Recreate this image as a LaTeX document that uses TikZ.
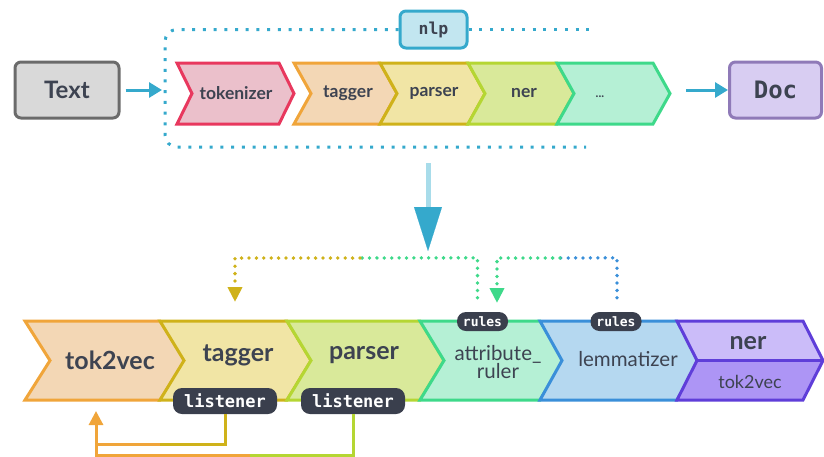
\documentclass[tikz,border=0pt]{standalone}
\usepackage{fontspec}
\setmainfont{Lato}
\setmonofont{DejaVu Sans Mono}
\usetikzlibrary{arrows.meta,calc}
\definecolor{ink}{HTML}{3D4351}
\definecolor{pill}{HTML}{3A3F4D}
\definecolor{cyanl}{HTML}{35A9CC}
\definecolor{cyanf}{HTML}{C2E6F0}
\definecolor{cyans}{HTML}{A8DCEA}
\definecolor{greyl}{HTML}{6B6B6B}
\definecolor{greyf}{HTML}{D9D9D9}
\definecolor{docl}{HTML}{8F7AB8}
\definecolor{docf}{HTML}{D8CDF2}
\definecolor{redl}{HTML}{E8385E}
\definecolor{redf}{HTML}{EBC0CB}
\definecolor{orl}{HTML}{F0A53A}
\definecolor{orf}{HTML}{F3D7B5}
\definecolor{mul}{HTML}{CFB21A}
\definecolor{muf}{HTML}{F1E5A5}
\definecolor{lil}{HTML}{B5D633}
\definecolor{lif}{HTML}{D9E99A}
\definecolor{grl}{HTML}{3ED98A}
\definecolor{grf}{HTML}{B5F0D5}
\definecolor{bll}{HTML}{3A8FD9}
\definecolor{blf}{HTML}{B5D8F0}
\definecolor{pul}{HTML}{5F3ED9}
\definecolor{puf}{HTML}{CBBCF9}
\definecolor{pud}{HTML}{AD95F5}
\newcommand{\fs}[1]{\fontsize{#1}{#1}\selectfont}
% chevron: left x, right x, top y, bottom y, notch depth, style
\newcommand{\chev}[6]{%
  \path[#6] (#1,#3) -- (#2,#3) -- ({#2+#5},{(#3+#4)/2}) -- (#2,#4) -- (#1,#4)
    -- ({#1+#5},{(#3+#4)/2}) -- cycle;}
\tikzset{
  chevRed/.style={draw=redl, fill=redf, line width=3pt},
  chevOr/.style={draw=orl, fill=orf, line width=3pt},
  chevMu/.style={draw=mul, fill=muf, line width=3pt},
  chevLi/.style={draw=lil, fill=lif, line width=3pt},
  chevGr/.style={draw=grl, fill=grf, line width=3pt},
  chevBl/.style={draw=bll, fill=blf, line width=3pt},
  endbox/.style={rounded corners=6pt, line width=3pt, inner sep=0pt, text=ink},
  toplab/.style={font=\bfseries\fs{17.5}, text=ink},
  biglab/.style={font=\bfseries\fs{25}, text=ink},
  midlab/.style={font=\fs{20.5}, text=ink},
  pillbox/.style={fill=pill, rounded corners=9pt, text=white, inner sep=0pt},
  flow/.style={draw=cyanl, line width=3pt, -{Triangle[width=15pt,length=13pt]}},
  frame/.style={draw=cyanl, line width=3pt, dash pattern=on 3pt off 7.7pt},
  dots/.style={line width=3.8pt, line cap=round, dash pattern=on 0pt off 7.4pt},
  back/.style={line width=3pt},
}
\begin{document}
\begin{tikzpicture}[x=1pt,y=-1pt]
\useasboundingbox (0,0) rectangle (824,456);
% top row
\node[endbox, draw=greyl, fill=greyf, minimum width=104pt, minimum height=56pt,
  font=\bfseries\fs{24}] (text) at (67,90) {Text};
\node[endbox, draw=docl, fill=docf, minimum width=92pt, minimum height=56pt,
  font=\ttfamily\bfseries\fs{24}] (doc) at (775.5,90) {Doc};
\node[endbox, draw=cyanl, fill=cyanf, minimum width=67pt, minimum height=37pt,
  font=\ttfamily\bfseries\fs{16.5}] (nlp) at (433.5,29.5) {nlp};
% dotted nlp frame
\draw[frame, rounded corners=12pt] (nlp.west) -- (165,29.5) -- (165,147) -- (586,147);
\draw[frame] (nlp.east) -- (593,29.5);
\chev{177}{279}{63}{124}{15}{chevRed}
\foreach \xl/\xr/\s in {294/380/chevOr, 380/468/chevMu, 468/557/chevLi, 557/653/chevGr}
  \chev{\xl}{\xr}{63}{124}{17}{\s};
\node[toplab] (tokL) at (236,93) {tokenizer};
\node[toplab] (tagL) at (348,93) {tagger};
\node[toplab] (parL) at (434,93) {parser};
\node[toplab] (nerL) at (524,93) {ner};
\node[toplab, font=\bfseries\fs{12}] (moreL) at (600,97) {...};
\coordinate (nlpIn) at (162,90);
\coordinate (nlpOut) at (686,90);
\draw[flow] (text.east) ++(5,0) -- (nlpIn);
\draw[flow] (nlpOut) -- (doc.west);
% big arrow down
\coordinate (dA) at (428,163);
\coordinate (dB) at (428,207);
\coordinate (dC) at (428,251);
\draw[draw=cyans, line width=5pt] (dA) -- (dB);
\draw[draw=cyanl, line width=0.1pt, -{Triangle[width=28pt,length=44pt]}] (dB) -- (dC);
% bottom row
\chev{25}{160}{321}{400}{25}{chevOr}
\chev{160}{287}{321}{400}{24}{chevMu}
\chev{287}{420}{321}{400}{24}{chevLi}
\chev{420}{540}{321}{400}{24}{chevGr}
\chev{540}{677}{321}{400}{22}{chevBl}
% ner with its own tok2vec
\fill[puf] (677,321) -- (803,321) -- (823,360.5) -- (697,360.5) -- cycle;
\fill[pud] (697,360.5) -- (823,360.5) -- (803,400) -- (677,400) -- cycle;
\draw[pul, line width=3pt] (677,321) -- (803,321) -- (823,360.5) -- (803,400)
  -- (677,400) -- (697,360.5) -- cycle;
\draw[pul, line width=3pt] (697,360.5) -- (823,360.5);
\node[biglab] (t2vL) at (110,360) {tok2vec};
\node[biglab] (tgL) at (238,355) {tagger};
\node[biglab] (psL) at (364,355) {parser};
\node[midlab, align=center, inner sep=0pt] (arL) at (498,362)
  {attribute\_\\[-2pt]ruler};
\node[midlab] (lmL) at (628,359) {lemmatizer};
\node[biglab] (nrL) at (748,343) {ner};
\node[midlab, font=\fs{18}] (nrtL) at (750,382) {tok2vec};
% pills
\node[pillbox, minimum width=104pt, minimum height=26pt,
  font=\ttfamily\bfseries\fs{17}] (lis1) at (225,401) {listener};
\node[pillbox, minimum width=104pt, minimum height=26pt,
  font=\ttfamily\bfseries\fs{17}] (lis2) at (353,401) {listener};
\node[pillbox, minimum width=51pt, minimum height=19pt,
  font=\ttfamily\bfseries\fs{13}] (rul1) at (482.5,321.5) {rules};
\node[pillbox, minimum width=51pt, minimum height=19pt,
  font=\ttfamily\bfseries\fs{13}] (rul2) at (616,321.5) {rules};
% listeners back to tok2vec
\coordinate (fbA) at (96,444);
\coordinate (fbB) at (96,455);
\coordinate (fbIn) at (96,411);
\draw[back, draw=lil] (lis2.south) |- (250,455);
\draw[back, draw=orl] (250,455) -- (fbB) -- (fbA);
\draw[back, draw=mul] (lis1.south) |- (160,444);
\draw[back, draw=orl, -{Triangle[width=14pt,length=14pt]}] (160,444) -- (fbA) -- (fbIn);
% rules to tagger and attribute_ruler
\coordinate (tagIn) at (235,302);
\coordinate (arIn) at (497,303);
\draw[dots, draw=grl, shorten <=14pt] ([xshift=-5pt]rul1.north) -- ++(0,-54) -- (360,258);
\draw[dots, draw=mul, -{Triangle[width=14pt,length=15pt]}] (360,258) -| (tagIn);
\draw[dots, draw=bll, shorten <=14pt] ([xshift=1pt]rul2.north) -- ++(0,-54) -- (560,258);
\draw[dots, draw=grl, -{Triangle[width=14pt,length=15pt]}] (560,258) -| (arIn);
\end{tikzpicture}
\end{document}
